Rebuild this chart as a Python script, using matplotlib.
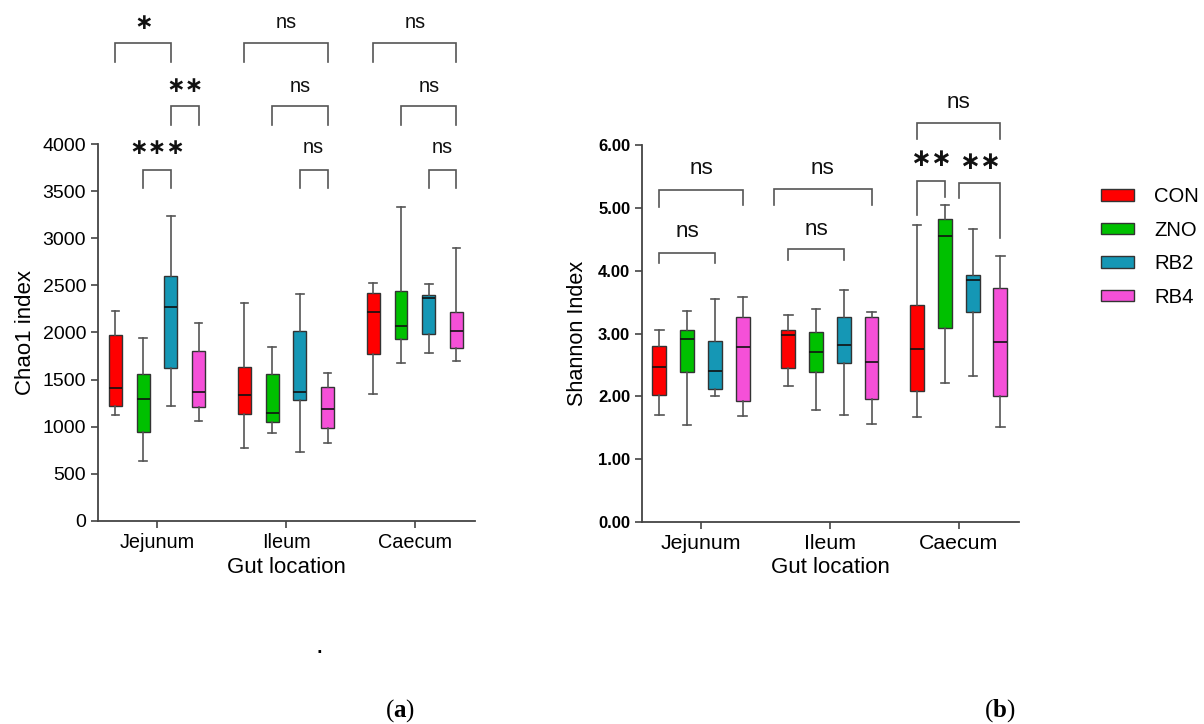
import matplotlib
matplotlib.use("Agg")
import matplotlib.pyplot as plt
import numpy as np
from matplotlib.patches import Patch

plt.rcParams['font.family'] = ['Liberation Sans', 'DejaVu Sans']
plt.rcParams['mathtext.fontset'] = 'custom'
plt.rcParams['mathtext.rm'] = 'Liberation Serif'
plt.rcParams['mathtext.bf'] = 'Liberation Serif:bold'

locations = ["Jejunum", "Ileum", "Caecum"]
groups = ["CON", "ZNO", "RB2", "RB4"]
colors = ["#FF0000", "#00C000", "#1597B5", "#F550D8"]

# Chao1: [whislo, q1, med, q3, whishi] per location, per group
chao1 = {
    "Jejunum": [[1125, 1220, 1408, 1973, 2232],
                [637, 948, 1291, 1556, 1938],
                [1217, 1623, 2267, 2596, 3240],
                [1058, 1213, 1372, 1804, 2097]],
    "Ileum":   [[771, 1139, 1337, 1630, 2310],
                [930, 1047, 1149, 1560, 1846],
                [729, 1280, 1372, 2012, 2412],
                [831, 983, 1192, 1418, 1574]],
    "Caecum":  [[1351, 1768, 2218, 2416, 2525],
                [1680, 1928, 2073, 2444, 3328],
                [1779, 1984, 2370, 2401, 2515],
                [1701, 1832, 2020, 2221, 2893]],
}
shannon = {
    "Jejunum": [[1.71, 2.02, 2.46, 2.80, 3.05],
                [1.55, 2.39, 2.92, 3.05, 3.36],
                [2.01, 2.11, 2.41, 2.88, 3.55],
                [1.68, 1.93, 2.78, 3.27, 3.58]],
    "Ileum":   [[2.17, 2.45, 2.97, 3.05, 3.30],
                [1.78, 2.39, 2.71, 3.02, 3.39],
                [1.71, 2.53, 2.81, 3.27, 3.70],
                [1.56, 1.95, 2.55, 3.27, 3.34]],
    "Caecum":  [[1.67, 2.09, 2.75, 3.46, 4.73],
                [2.22, 3.09, 4.55, 4.82, 5.04],
                [2.33, 3.35, 3.85, 3.93, 4.67],
                [1.51, 2.00, 2.87, 3.73, 4.23]],
}

# significance brackets: (location index, left slot, right slot, top, left leg bottom, right leg bottom, label, label y)
chao1_sig = [
    (0, 0, 2, 5072, 4870, 4870, "*", 5284),
    (1, 0, 3, 5072, 4870, 4870, "ns", 5284),
    (2, 0, 3, 5072, 4870, 4870, "ns", 5284),
    (0, 2, 3, 4403, 4202, 4202, "**", 4615),
    (1, 1, 3, 4403, 4202, 4202, "ns", 4615),
    (2, 1, 3, 4403, 4202, 4202, "ns", 4615),
    (0, 1, 2, 3724, 3533, 3533, "***", 3958),
    (1, 2, 3, 3724, 3533, 3533, "ns", 3958),
    (2, 2, 3, 3724, 3533, 3533, "ns", 3958),
]
shannon_sig = [
    (0, 0, 3, 5.28, 5.01, 5.04, "ns", 5.63),
    (0, 0, 2, 4.28, 4.12, 4.12, "ns", 4.62),
    (1, -0.53, 3, 5.30, 5.05, 5.05, "ns", 5.63),
    (1, 0, 2, 4.35, 4.17, 4.17, "ns", 4.66),
    (2, 0, 3, 6.35, 6.10, 6.10, "ns", 6.67),
    (2, 0, 1, 5.43, 4.89, 5.17, "**", 5.78),
    (2, 1.5, 3, 5.40, 5.16, 4.52, "**", 5.73),
]

fig = plt.figure(figsize=(12.04, 7.24), dpi=100)
axL = fig.add_axes([0.0814, 0.2804, 0.3131, 0.5207])
axR = fig.add_axes([0.5332, 0.2790, 0.3131, 0.5207])

spacing = 0.215
offsets = [(-1.5 + i) * spacing for i in range(4)]

def draw(ax, data, width):
    for li, loc in enumerate(locations):
        stats = []
        for gi, g in enumerate(groups):
            lo, q1, med, q3, hi = data[loc][gi]
            stats.append(dict(whislo=lo, q1=q1, med=med, q3=q3, whishi=hi, fliers=[], label=g))
        pos = [li + o for o in offsets]
        bp = ax.bxp(stats, positions=pos, widths=width, patch_artist=True,
                    showfliers=False, manage_ticks=False,
                    boxprops=dict(linewidth=1.0, edgecolor="#333333"),
                    medianprops=dict(color="#111111", linewidth=1.2),
                    whiskerprops=dict(color="#555555", linewidth=1.2),
                    capprops=dict(color="#555555", linewidth=1.2),
                    capwidths=width * 0.6)
        for patch, c in zip(bp['boxes'], colors):
            patch.set_facecolor(c)

def sig(ax, items, fs_star, fs_ns):
    for li, a, b, top, lb, rb, lab, ly in items:
        x1 = li + (-1.5 + a) * spacing
        x2 = li + (-1.5 + b) * spacing
        ax.plot([x1, x1, x2, x2], [lb, top, top, rb], color="#555555", lw=1.2,
                clip_on=False, solid_joinstyle="miter")
        if "*" in lab:
            ax.text((x1 + x2) / 2, ly, "\u2217" * len(lab), ha="center", va="center",
                    fontsize=fs_star, family=["DejaVu Sans"], fontweight="bold",
                    clip_on=False, color="#111111")
        else:
            ax.text((x1 + x2) / 2, ly, lab, ha="center", va="center",
                    fontsize=fs_ns, clip_on=False, color="#111111")

for ax in (axL, axR):
    for s in ("top", "right"):
        ax.spines[s].set_visible(False)
    for s in ("left", "bottom"):
        ax.spines[s].set_color("#444444")
        ax.spines[s].set_linewidth(1.3)
    ax.set_xlim(-0.458, 2.466)
    ax.set_xticks(range(3))
    ax.tick_params(axis="both", direction="out", length=5, width=1.2, color="#444444")

draw(axL, chao1, 0.10)
axL.set_ylim(0, 4000)
axL.set_yticks(range(0, 4001, 500))
axL.set_xticklabels(locations, fontsize=14.3)
axL.tick_params(axis="y", labelsize=14)
axL.set_ylabel("Chao1 index", fontsize=16, labelpad=5)
axL.set_xlabel("Gut location", fontsize=16, labelpad=4)
sig(axL, chao1_sig, 16, 14.3)

draw(axR, shannon, 0.108)
axR.set_ylim(0, 6)
axR.set_yticks(np.arange(0, 6.01, 1))
axR.set_yticklabels([f"{v:.2f}" for v in np.arange(0, 6.01, 1)], fontsize=12, fontweight="bold")
axR.set_xticklabels(locations, fontsize=15.3)
axR.set_ylabel("Shannon Index", fontsize=15.6, labelpad=7)
axR.set_xlabel("Gut location", fontsize=16, labelpad=3)
sig(axR, shannon_sig, 18, 16.2)

# legend
handles = [Patch(facecolor=c, edgecolor="#333333", linewidth=1.0) for c in colors]
fig.legend(handles, groups, loc="upper left", bbox_to_anchor=(1101 / 1204, 1 - 187 / 724),
           frameon=False, fontsize=14.6, handlelength=1.63, handleheight=0.5,
           labelspacing=0.72, handletextpad=1.0, borderpad=0, borderaxespad=0)

fig.text(319 / 1204, 1 - 646 / 724, ".", fontsize=20, ha="center", va="center")
fig.text(400 / 1204, 1 - 711 / 724, r"$\mathrm{(}\mathbf{a}\mathrm{)}$", fontsize=18, ha="center", va="center")
fig.text(1000 / 1204, 1 - 711 / 724, r"$\mathrm{(}\mathbf{b}\mathrm{)}$", fontsize=18, ha="center", va="center")

fig.savefig("out.png", dpi=100)
